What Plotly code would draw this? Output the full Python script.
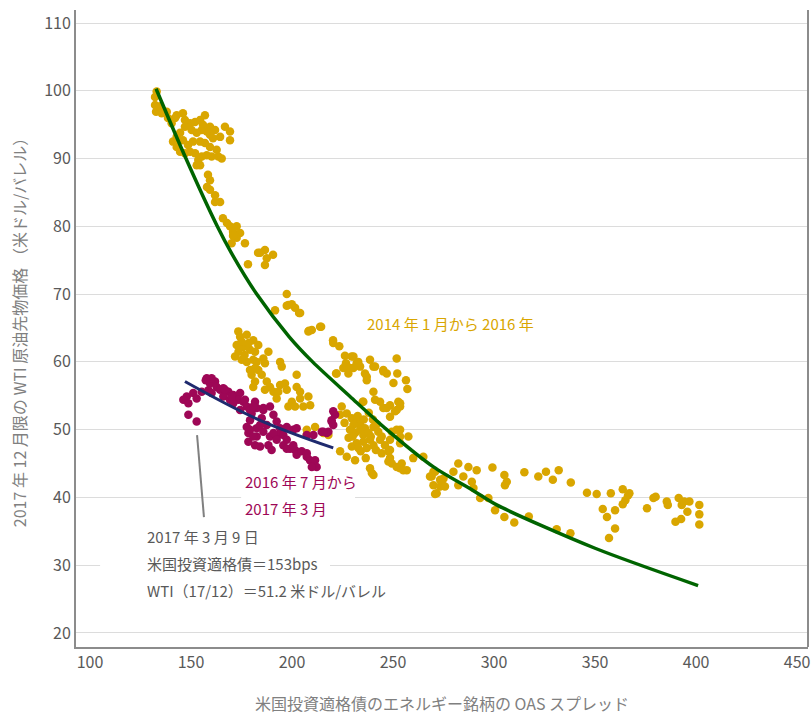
import plotly.graph_objects as go

# ---- Gold series: 2014/01 - 2016 ----
gold_x = [
    133.0, 132.2, 132.2, 132.7, 134.7, 135.5, 138.0, 138.6, 140.4, 142.1, 142.9, 146.0, 147.0, 149.5, 152.0,
    154.5, 156.9, 155.9, 159.4, 161.9, 166.8, 169.3, 169.3, 164.4, 160.9, 159.4, 157.8, 155.3, 152.8, 150.3,
    147.0, 144.6, 142.9, 141.1, 142.9, 144.6, 147.0, 149.5, 152.0, 153.6, 154.5, 152.8, 155.3, 157.8, 160.2,
    163.5, 165.2, 159.4, 156.9, 162.7, 154.5, 151.0, 148.5, 146.0, 158.4, 159.4, 157.9, 159.4, 161.9, 164.4,
    161.9, 165.8, 167.8, 169.3, 172.6, 170.8, 174.3, 172.6, 176.7, 170.1, 183.2, 186.6, 190.6, 187.5, 186.6,
    178.2, 184.2, 170.8, 197.4, 197.4, 199.9, 201.5, 203.5, 191.6, 208.4, 214.4, 220.3,
    173.4, 174.3, 177.6, 180.8, 183.3, 172.6, 175.9, 179.2, 181.7, 171.8, 175.1, 177.6, 180.8, 188.3, 185.8,
    186.6, 194.1, 194.9, 179.2, 180.0, 183.3, 185.0, 181.7, 180.8, 187.5, 189.1, 190.8, 186.6, 194.1, 193.2,
    192.4, 196.5, 197.4, 202.3, 202.3, 204.0, 208.1, 204.0, 199.9, 198.2, 201.5, 205.6, 209.0, 207.3, 211.4,
    207.3, 215.5, 218.0, 209.8, 213.9, 198.2, 204.0, 208.1, 175.0, 178.5, 176.5, 173.5, 182.5, 181.7,
    220.4, 223.4, 226.2, 226.7, 225.4, 221.8, 227.9, 230.4, 232.0, 233.7, 230.4, 236.1, 237.0, 238.6, 240.3,
    245.2, 246.9, 251.8, 252.1, 256.4, 250.2, 257.1, 240.3, 235.3, 243.6, 245.2, 248.5, 252.6, 253.5, 251.0,
    224.6, 223.8, 227.1, 229.6, 232.0, 233.7, 230.4, 228.7, 231.2, 233.7, 236.1, 235.3, 237.9, 240.3, 238.6,
    235.3, 232.0, 229.6, 232.8, 237.0, 240.3, 243.6, 244.4, 242.7, 246.0, 248.5, 249.4, 253.5, 257.6, 253.5,
    247.7, 248.5, 249.4, 254.3, 253.5, 256.8, 260.0, 265.0, 223.8, 227.1, 231.2, 238.6, 239.5, 241.1, 229.5,
    232.8, 222.1, 228.7, 237.0, 241.1, 245.2, 235.0, 246.9, 253.5, 251.8, 248.5, 230.0, 232.5, 235.5, 238.0,
    240.0, 242.0, 226.0, 228.0, 234.0, 236.5, 239.0, 241.5, 251.8, 253.5, 255.1, 251.8, 247.7, 240.3, 248.5,
    244.4,
    268.3, 270.8, 273.3, 270.0, 271.6, 273.3, 275.0, 270.0, 279.9, 282.3, 282.3, 284.8, 287.3, 289.0, 289.8,
    291.4, 293.1, 297.2, 299.2, 300.5, 305.1, 306.3, 305.4, 305.1, 310.0, 315.0, 317.2, 321.9, 325.7, 329.1,
    332.0, 331.0, 337.8, 338.0, 346.0, 350.8, 353.8, 355.9, 356.9, 357.8, 359.9, 359.9, 363.7, 363.7, 365.0,
    366.3, 367.0, 375.7, 378.9, 380.0, 385.5, 386.0, 389.8, 392.6, 391.4, 392.9, 394.1, 396.7, 395.7, 401.6,
    401.6, 401.6, 274.1, 275.7, 269.1, 270.8,
]
gold_y = [
    99.9, 99.1, 97.9, 96.9, 97.7, 96.7, 96.9, 96.0, 95.2, 96.0, 96.4, 96.7, 95.7, 95.2, 95.4,
    95.7, 96.4, 95.0, 94.7, 94.2, 94.7, 94.0, 92.7, 93.2, 93.0, 93.5, 94.0, 94.2, 93.8, 94.2,
    94.7, 93.8, 93.2, 92.5, 91.7, 91.0, 90.8, 91.0, 90.8, 89.8, 89.0, 89.0, 90.3, 90.5, 90.3,
    90.3, 90.0, 91.7, 92.3, 91.3, 92.5, 92.5, 92.0, 92.7, 87.6, 86.8, 85.8, 85.4, 84.6, 83.6,
    83.6, 81.2, 80.5, 80.0, 80.0, 79.2, 79.0, 78.3, 77.5, 77.5, 76.1, 76.5, 75.8, 75.3, 74.3,
    74.4, 76.1, 78.6, 70.0, 68.3, 68.5, 68.0, 67.2, 67.6, 64.6, 65.2, 63.2,
    64.5, 63.7, 64.0, 63.2, 62.5, 62.5, 62.2, 61.8, 61.5, 60.8, 60.3, 60.0, 60.3, 61.5, 60.5,
    59.8, 60.0, 59.3, 58.8, 58.1, 58.8, 58.1, 57.1, 56.3, 57.1, 56.3, 55.6, 55.9, 56.6, 55.6,
    54.6, 56.8, 55.9, 58.1, 56.3, 55.6, 54.9, 54.6, 54.1, 53.4, 53.4, 53.4, 53.6, 50.0, 50.4,
    49.2, 49.5, 49.2, 64.7, 65.2, 68.4, 67.2, 64.5, 63.0, 62.8, 61.0, 61.5, 60.0, 59.1,
    62.8, 62.3, 60.9, 59.8, 59.1, 58.3, 58.3, 60.8, 59.8, 59.3, 59.1, 58.3, 57.3, 60.3, 59.3,
    58.8, 58.3, 60.5, 58.3, 57.3, 56.9, 56.0, 55.6, 54.1, 54.1, 53.2, 53.6, 54.1, 53.4, 52.7,
    53.4, 52.2, 52.4, 51.7, 51.2, 50.7, 50.7, 50.0, 49.5, 50.0, 50.2, 49.2, 49.5, 50.4, 48.5,
    48.2, 48.0, 47.5, 47.3, 47.3, 47.7, 48.5, 49.0, 49.7, 47.7, 48.5, 49.7, 49.0, 49.0, 50.0,
    46.8, 45.8, 45.0, 45.0, 44.3, 44.0, 45.8, 46.0, 46.8, 46.0, 45.5, 44.3, 43.6, 54.4, 60.8,
    60.0, 58.3, 59.1, 57.8, 59.3, 58.6, 54.1, 53.2, 53.9, 52.9, 51.9, 49.0, 52.0, 51.5, 52.5,
    51.5, 50.8, 51.0, 48.8, 46.8, 45.8, 49.0, 47.0, 50.0, 48.0, 44.0, 44.5, 45.3, 43.3, 47.0,
    46.5,
    43.1, 43.8, 42.6, 41.8, 40.6, 41.6, 42.8, 43.8, 43.8, 45.0, 41.8, 43.1, 44.5, 42.3, 41.4,
    44.0, 39.9, 39.9, 44.4, 38.1, 43.3, 42.3, 41.8, 37.1, 36.3, 43.7, 37.2, 43.1, 43.8, 42.6,
    44.0, 35.3, 34.7, 42.2, 40.7, 40.5, 38.3, 37.1, 34.0, 40.6, 38.1, 35.4, 41.2, 39.0, 39.6,
    40.3, 40.6, 38.4, 39.9, 40.1, 39.4, 38.9, 36.4, 36.8, 39.9, 38.9, 39.4, 39.4, 37.9, 38.9,
    37.5, 36.0, 42.3, 41.6, 43.1, 40.5,
]

# ---- Magenta series: 2016/07 - 2017/03 ----
magenta_x = [
    147.9, 146.2, 148.7, 151.1, 152.8, 155.3, 157.8, 159.4, 161.9, 162.7, 158.6, 160.2, 166.0, 168.5, 170.9,
    174.3, 173.4, 175.9, 177.6, 181.7, 182.5, 180.0, 179.2, 177.6, 178.4, 178.4, 181.7, 182.5, 185.0, 185.8,
    187.5, 185.8, 189.1, 188.3, 189.9, 190.8, 192.4, 194.1, 193.2, 195.7, 197.4, 195.7, 199.0, 201.5, 202.3,
    204.8, 207.3, 208.9, 211.4, 212.2, 200.6, 202.3, 207.3, 210.6, 214.7, 218.0, 219.6, 221.3, 148.7, 152.8,
    160.2, 164.4, 166.0, 169.3, 170.9, 174.3, 182.5, 184.2, 184.2, 197.4, 220.4, 219.6, 220.4, 217.2, 215.5,
    179.2, 179.2, 180.8, 190.8, 192.4, 197.4, 200.6, 207.3, 209.8, 157.3, 166.8, 170.1, 176.7, 180.8, 185.8,
    189.1,
]
magenta_y = [
    54.9, 54.4, 53.9, 55.4, 54.6, 55.6, 57.6, 56.8, 57.1, 56.3, 55.8, 55.4, 56.1, 55.6, 55.1,
    55.4, 54.4, 54.1, 53.4, 54.1, 53.2, 52.4, 51.4, 50.4, 49.5, 48.2, 47.7, 49.0, 51.7, 53.2,
    50.7, 49.7, 49.0, 47.7, 47.0, 52.2, 51.2, 50.2, 49.2, 49.2, 48.5, 47.7, 47.2, 47.0, 46.3,
    46.8, 46.0, 45.5, 45.5, 44.5, 50.0, 50.2, 49.2, 49.2, 49.7, 49.7, 51.2, 52.2, 52.2, 51.2,
    57.6, 55.9, 54.9, 54.4, 53.9, 52.9, 50.2, 50.7, 47.5, 50.4, 52.7, 51.4, 50.7, 49.5, 49.7,
    52.9, 50.0, 49.0, 49.5, 48.5, 47.2, 47.7, 46.5, 44.5, 57.3, 55.9, 54.9, 54.4, 53.4, 52.9,
    53.4,
]

# ---- Fitted curves ----
fit_x = [132.7, 147.5, 163.0, 170.1, 182.5, 198.6, 210.2, 228.7, 246.9, 270.0, 289.8, 301.3, 350.0, 401.0]
fit_y = [100.3, 90.0, 80.0, 76.0, 70.0, 63.7, 60.0, 54.9, 50.0, 44.5, 41.0, 38.9, 32.5, 27.0]
fit2_x = [147.0, 182.5, 220.4]
fit2_y = [57.1, 51.6, 47.3]

# ---- Callout ----
callout_x = [153.0, 156.4]
callout_y = [49.2, 37.1]

x_ticks = [100, 150, 200, 250, 300, 350, 400, 450]
y_ticks = [20, 30, 40, 50, 60, 70, 80, 90, 100, 110]

FONT = "Noto Sans CJK JP"
GOLD = "#D9A600"
MAG = "#9E0756"

fig = go.Figure()
fig.add_trace(go.Scatter(x=gold_x, y=gold_y, mode="markers",
                         marker=dict(color=GOLD, size=8.5, line=dict(width=0)),
                         name="2014年1月から2016年", hoverinfo="x+y"))
fig.add_trace(go.Scatter(x=magenta_x, y=magenta_y, mode="markers",
                         marker=dict(color=MAG, size=8.5, line=dict(width=0)),
                         name="2016年7月から2017年3月", hoverinfo="x+y"))
fig.add_trace(go.Scatter(x=fit_x, y=fit_y, mode="lines",
                         line=dict(color="#006400", width=3.5, shape="spline", smoothing=0.8),
                         hoverinfo="skip"))
fig.add_trace(go.Scatter(x=fit2_x, y=fit2_y, mode="lines",
                         line=dict(color="#1F2A6E", width=3, shape="spline"),
                         hoverinfo="skip"))
fig.add_trace(go.Scatter(x=callout_x, y=callout_y, mode="lines",
                         line=dict(color="#808080", width=2), hoverinfo="skip"))

shapes = [
    # right border
    dict(type="line", xref="paper", yref="paper", x0=1, x1=1, y0=0, y1=1,
         line=dict(color="#8C8C8C", width=2)),
    # white boxes behind annotation text (cover gridlines)
    dict(type="rect", xref="x", yref="y", x0=174.8, x1=231.2, y0=36.5, y1=44.2,
         fillcolor="white", line=dict(width=0), layer="between"),
    dict(type="rect", xref="x", yref="y", x0=105.0, x1=218.8, y0=24.0, y1=36.2,
         fillcolor="white", line=dict(width=0), layer="between"),
]

ann = []
def add_text(x, y, text, color, size=15):
    ann.append(dict(x=x, y=y, xref="x", yref="y", text=text, showarrow=False,
                    xanchor="left", yanchor="middle",
                    font=dict(family=FONT, size=size, color=color)))

add_text(236.1, 65.7, "2014 年 1 月から 2016 年", GOLD)
add_text(175.7, 42.4, "2016 年 7 月から", MAG)
add_text(175.7, 38.4, "2017 年 3 月", MAG)
add_text(127.2, 34.3, "2017 年 3 月 9 日", "#595959")
add_text(127.2, 30.2, "米国投資適格債＝153bps", "#595959")
add_text(127.2, 26.2, "WTI（17/12）＝51.2 米ドル/バレル", "#595959")

fig.update_layout(
    width=811, height=715,
    margin=dict(l=76, r=3, t=10, b=68, autoexpand=False),
    paper_bgcolor="white", plot_bgcolor="white",
    showlegend=False,
    font=dict(family=FONT, size=16, color="#595959"),
    shapes=shapes,
    annotations=ann,
    xaxis=dict(range=[93.07, 455.4], tickvals=x_ticks, showgrid=False, zeroline=False,
               showline=True, linecolor="#8C8C8C", linewidth=2, ticks="", automargin=False,
               tickfont=dict(family=FONT, size=16, color="#595959"),
               title=dict(text="米国投資適格債のエネルギー銘柄の OAS スプレッド",
                          font=dict(family=FONT, size=16, color="#808080"), standoff=31)),
    yaxis=dict(range=[17.93, 111.92], tickvals=y_ticks, showgrid=True, gridcolor="#DCDCDC",
               gridwidth=1, zeroline=False, automargin=False,
               showline=True, linecolor="#8C8C8C", linewidth=2, ticks="",
               tickfont=dict(family=FONT, size=16, color="#595959"),
               title=dict(text="2017 年 12 月限の WTI 原油先物価格 （米ドル/バレル）",
                          font=dict(family=FONT, size=16, color="#808080"), standoff=14)),
)

# Remove the default 8px page margin so the 811x715 figure fills the window exactly.
fig.write_html("out.html",
               config={"displayModeBar": False},
               post_script="document.body.style.margin='0';document.body.style.overflow='hidden';")
